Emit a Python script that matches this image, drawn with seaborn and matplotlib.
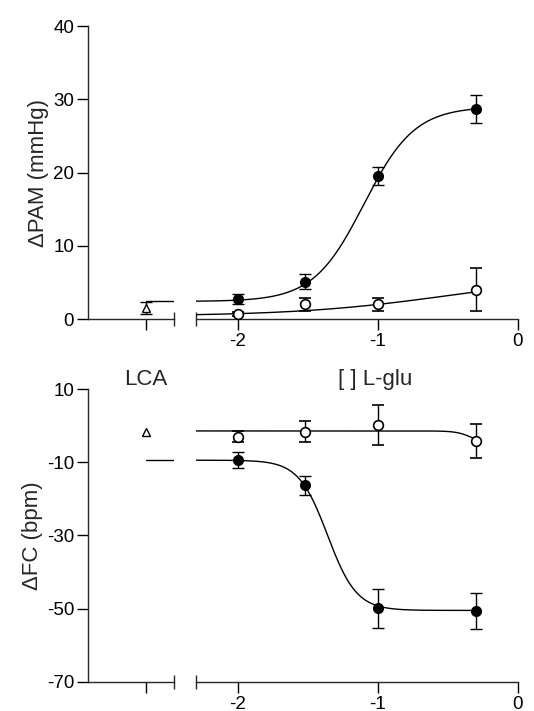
import numpy as np
import matplotlib
matplotlib.use("Agg")
import matplotlib.pyplot as plt
import seaborn as sns

# log [L-glu] doses
log_dose = [-2.0, -1.52, -1.0, -0.3]

# ΔPAM (mmHg)
pam_filled = [2.7, 5.1, 19.5, 28.7]
pam_filled_err = [0.7, 1.0, 1.2, 1.9]
pam_open = [0.7, 2.0, 2.0, 4.0]
pam_open_err = [0.3, 0.9, 0.9, 2.9]
pam_lca = 1.5
pam_lca_err = 0.8

# ΔFC (bpm)
fc_filled = [-9.3, -16.2, -49.9, -50.7]
fc_filled_err = [2.2, 2.6, 5.3, 5.0]
fc_open = [-3.0, -1.6, 0.2, -4.1]
fc_open_err = [1.5, 2.8, 5.4, 4.7]
fc_lca = -1.6

# sigmoid fits: left plateau, right plateau, logEC50, slope
pam_filled_fit = (2.4, 29.0, -1.1, 2.4)
pam_open_fit = (0.4, 6.0, -0.5, 0.8)
fc_filled_fit = (-9.4, -50.5, -1.36, 4.2)
fc_open_fit = (-1.4, -5.0, -0.33, 8.0)

sns.set_style("ticks")
plt.rcParams['font.family'] = ['Liberation Sans', 'DejaVu Sans']
plt.rcParams['axes.linewidth'] = 1.0
plt.rcParams['axes.unicode_minus'] = False

LCA_X = 0.674
X_START = -2.3


def sigmoid(x, p):
    a, b, c, h = p
    return a + (b - a) / (1 + 10 ** ((c - x) * h))


def panel(y0, h, ylim, yticks, ylabel, filled, ferr, opn, oerr, lca, lca_err, ffit, ofit):
    axl = fig.add_axes([0.1648, y0, 0.161, h])
    axr = fig.add_axes([0.367, y0, 0.603, h], sharey=axl)
    axl.set_xlim(0, 1)
    axr.set_xlim(X_START, 0)
    axl.set_ylim(*ylim)
    axl.set_yticks(yticks)
    axl.set_ylabel(ylabel, fontsize=16, labelpad=3)
    for ax in (axl, axr):
        ax.spines['top'].set_visible(False)
        ax.spines['right'].set_visible(False)
        ax.tick_params(which='major', direction='out', length=8, width=1,
                       labelsize=13.5, pad=2, colors='black')
        ax.tick_params(which='minor', direction='inout', length=10, width=1)
    axr.spines['left'].set_visible(False)
    axr.tick_params(axis='y', left=False, labelleft=False)

    axl.set_xticks([LCA_X])
    axl.set_xticklabels([])
    axl.set_xticks([1.0], minor=True)
    axr.set_xticks([-2, -1, 0])
    axr.set_xticklabels(['-2', '-1', '0'])
    axr.set_xticks([X_START], minor=True)

    xs = np.linspace(X_START, log_dose[-1], 300)
    sns.lineplot(x=xs, y=sigmoid(xs, ffit), ax=axr, color='black', lw=1)
    sns.lineplot(x=xs, y=sigmoid(xs, ofit), ax=axr, color='black', lw=1)
    axl.plot([LCA_X, 1.0], [ffit[0], ffit[0]], color='black', lw=1)

    axr.errorbar(log_dose, filled, yerr=ferr, fmt='o', color='black', mfc='black',
                 ms=7, capsize=4.3, elinewidth=1, capthick=1, zorder=3, clip_on=False)
    axr.errorbar(log_dose, opn, yerr=oerr, fmt='o', color='black', mfc='white',
                 mew=1.2, ms=7, capsize=4.3, elinewidth=1, capthick=1, zorder=4, clip_on=False)
    axl.errorbar([LCA_X], [lca], yerr=lca_err, fmt='^', color='black', mfc='white',
                 mew=1, ms=6, capsize=4.3, elinewidth=1, capthick=1, zorder=3, clip_on=False)
    return axl, axr


fig = plt.figure(figsize=(5.34, 7.11), dpi=100)

panel(0.5513, 0.4121, (0, 40), [0, 10, 20, 30, 40], 'ΔPAM (mmHg)',
      pam_filled, pam_filled_err, pam_open, pam_open_err, pam_lca, pam_lca_err,
      pam_filled_fit, pam_open_fit)

panel(0.0412, 0.4113, (-70, 10), [-70, -50, -30, -10, 10], 'ΔFC (bpm)',
      fc_filled, fc_filled_err, fc_open, fc_open_err, fc_lca, None,
      fc_filled_fit, fc_open_fit)

fig.text(0.273, 0.466, 'LCA', ha='center', va='center', fontsize=16)
fig.text(0.702, 0.466, '[ ] L-glu', ha='center', va='center', fontsize=16)

fig.savefig('out.png', dpi=100)
